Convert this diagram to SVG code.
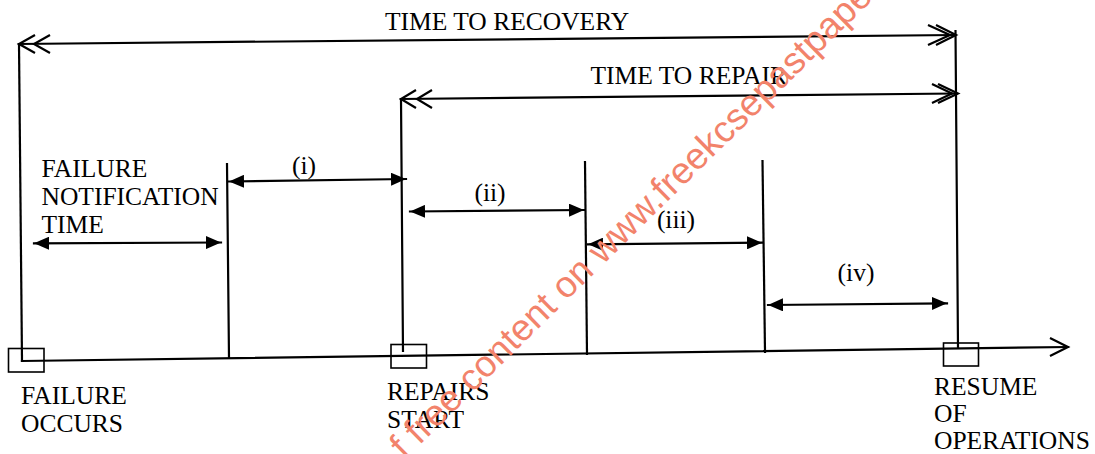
<svg xmlns="http://www.w3.org/2000/svg" width="1095" height="454" viewBox="0 0 1095 454">
<style>
.ln{stroke:#000;stroke-width:2.2;fill:none;stroke-linecap:square}
.bx{stroke:#000;stroke-width:1.6;fill:none}
.ch{stroke:#000;stroke-width:2.2;fill:none;stroke-linejoin:miter}
.t{font-family:"Liberation Serif","Times New Roman",serif;font-size:25.5px;fill:#000}
.wm{font-family:"Liberation Sans",Arial,sans-serif;font-size:37px;fill:#f2836b}
</style>
<defs>
<marker id="ah" markerUnits="userSpaceOnUse" viewBox="0 0 15 13" refX="15" refY="6.5" markerWidth="15" markerHeight="13" orient="auto-start-reverse">
<path d="M0,0 L15,6.5 L0,13 z" fill="#000"/>
</marker>
</defs>
<rect width="1095" height="454" fill="#fff"/>
<g id="connectors">
<line class="ln" x1="19" y1="44" x2="955" y2="35"/>
<polyline class="ch" points="35,35 19,44 35,53"/>
<polyline class="ch" points="50,35 34,44 50,53"/>
<polyline class="ch" points="928,25 950,35 928,45"/>
<polyline class="ch" points="936,25 956,35 936,45"/>
<line class="ln" x1="401" y1="99" x2="956" y2="93.5"/>
<polyline class="ch" points="416,90 401,99 416,108"/>
<polyline class="ch" points="432,90 417,99 432,108"/>
<polyline class="ch" points="932,84 952,93.5 932,103"/>
<polyline class="ch" points="938,84 958,93.5 938,103"/>
<line class="ln" x1="19" y1="44" x2="22" y2="361"/>
<line class="ln" x1="227" y1="164" x2="229" y2="358"/>
<line class="ln" x1="401" y1="99" x2="403" y2="351"/>
<line class="ln" x1="585" y1="162" x2="587" y2="354"/>
<line class="ln" x1="762.5" y1="161" x2="765" y2="352"/>
<line class="ln" x1="955.5" y1="31" x2="958" y2="348"/>
<line class="ln" x1="22" y1="361" x2="1068" y2="347"/>
<polyline class="ch" points="1050,338 1068,347 1050,356"/>
<line class="ln" x1="34" y1="243.3" x2="221" y2="242.5" marker-start="url(#ah)" marker-end="url(#ah)"/>
<line class="ln" x1="229" y1="181.5" x2="406" y2="179" marker-start="url(#ah)" marker-end="url(#ah)"/>
<line class="ln" x1="410" y1="211.5" x2="584" y2="210" marker-start="url(#ah)" marker-end="url(#ah)"/>
<line class="ln" x1="588" y1="244.3" x2="762" y2="242.7" marker-start="url(#ah)" marker-end="url(#ah)"/>
<line class="ln" x1="768" y1="305" x2="947" y2="303.3" marker-start="url(#ah)" marker-end="url(#ah)"/>
</g>
<g id="failure-occurs">
<rect class="bx" x="8.5" y="348.5" width="35.5" height="23.5"/>
<text class="t" x="21" y="404">FAILURE</text>
<text class="t" x="21" y="432">OCCURS</text>
</g>
<g id="repairs-start">
<rect class="bx" x="391" y="344.5" width="35.5" height="23.5"/>
<text class="t" x="387" y="400">REPAIRS</text>
<text class="t" x="387" y="428">START</text>
</g>
<g id="resume-operations">
<rect class="bx" x="943.5" y="343" width="35" height="23"/>
<text class="t" x="934" y="395">RESUME</text>
<text class="t" x="934" y="422">OF</text>
<text class="t" x="934" y="449">OPERATIONS</text>
</g>
<g id="labels">
<text class="t" x="385" y="29.5">TIME TO RECOVERY</text>
<text class="t" x="590.5" y="83.5">TIME TO REPAIR</text>
<text class="t" x="41.5" y="177">FAILURE</text>
<text class="t" x="41.5" y="205">NOTIFICATION</text>
<text class="t" x="41.5" y="233">TIME</text>
<text class="t" x="304" y="174" text-anchor="middle">(i)</text>
<text class="t" x="490" y="201" text-anchor="middle">(ii)</text>
<text class="t" x="676" y="228" text-anchor="middle">(iii)</text>
<text class="t" x="856" y="281" text-anchor="middle">(iv)</text>
</g>
<g id="watermark">
<text class="wm" transform="translate(404.7,459.9) rotate(-44.5)">f free content on www.freekcsepastpape</text>
</g>
</svg>
